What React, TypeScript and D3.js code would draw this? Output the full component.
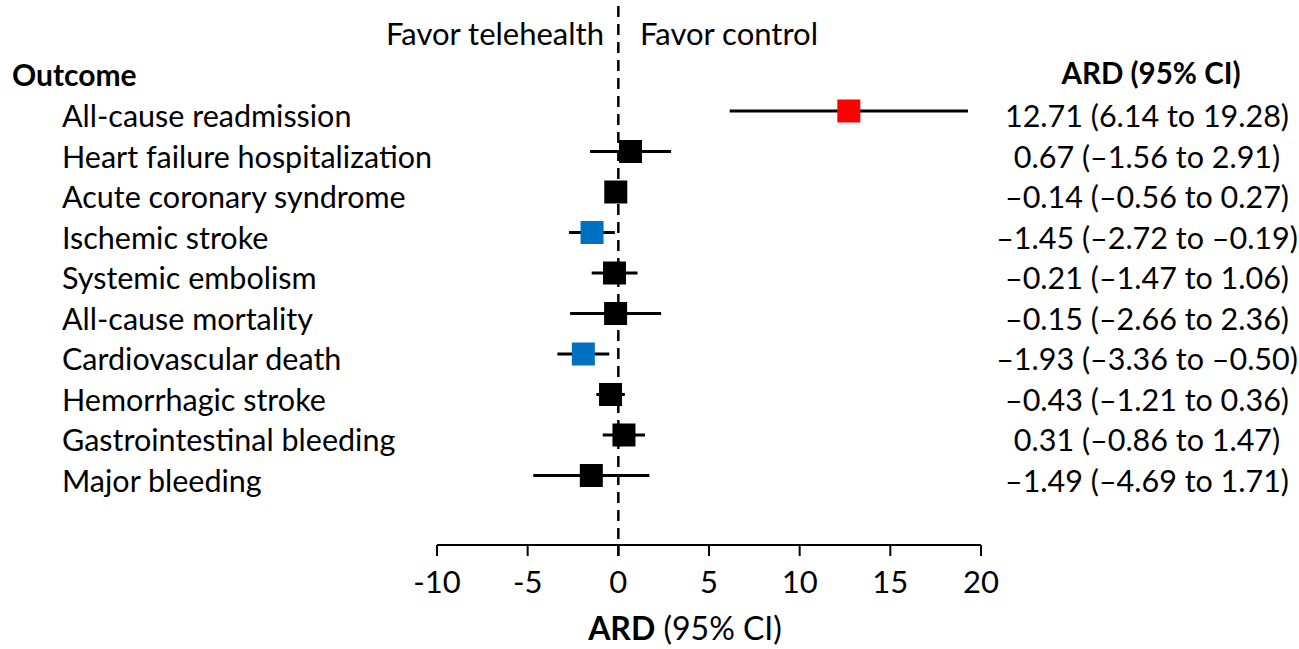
import React from "react";
import * as d3 from "d3";

const outcomes: string[] = [
  "All-cause readmission",
  "Heart failure hospitalization",
  "Acute coronary syndrome",
  "Ischemic stroke",
  "Systemic embolism",
  "All-cause mortality",
  "Cardiovascular death",
  "Hemorrhagic stroke",
  "Gastrointestinal bleeding",
  "Major bleeding",
];
const ard: number[] = [12.71, 0.67, -0.14, -1.45, -0.21, -0.15, -1.93, -0.43, 0.31, -1.49];
const lower: number[] = [6.14, -1.56, -0.56, -2.72, -1.47, -2.66, -3.36, -1.21, -0.86, -4.69];
const upper: number[] = [19.28, 2.91, 0.27, -0.19, 1.06, 2.36, -0.5, 0.36, 1.47, 1.71];
const ciLabels: string[] = [
  "12.71 (6.14 to 19.28)",
  "0.67 (\u20131.56 to 2.91)",
  "\u20130.14 (\u20130.56 to 0.27)",
  "\u20131.45 (\u20132.72 to \u20130.19)",
  "\u20130.21 (\u20131.47 to 1.06)",
  "\u20130.15 (\u20132.66 to 2.36)",
  "\u20131.93 (\u20133.36 to \u20130.50)",
  "\u20130.43 (\u20131.21 to 0.36)",
  "0.31 (\u20130.86 to 1.47)",
  "\u20131.49 (\u20134.69 to 1.71)",
];
// marker colour group: 1 = favours control (significant), -1 = favours telehealth, 0 = n.s.
const signif: number[] = [1, 0, 0, -1, 0, 0, -1, 0, 0, 0];
const xTicks: number[] = [-10, -5, 0, 5, 10, 15, 20];

const W = 1299;
const H = 649;
const font = "Lato, 'Open Sans', sans-serif";
const fs = 30.5;

export default function App() {
  const x = d3.scaleLinear().domain([-10, 20]).range([437, 981]);
  const y = d3.scalePoint<string>().domain(outcomes).range([111, 475.5]);
  const color = (s: number) => (s > 0 ? "#ff0000" : s < 0 ? "#0070c0" : "#000000");
  const axisY = 545;
  const sq = 23;

  return (
    <svg
      width={W}
      height={H}
      style={{ position: "absolute", left: 0, top: 0, background: "#fff" }}
      fontFamily={font}
    >
      {/* header */}
      <text x={604} y={45} fontSize={31} textAnchor="end" fill="#000">
        Favor telehealth
      </text>
      <text x={640} y={45} fontSize={31} fill="#000">
        Favor control
      </text>
      <text x={12} y={86} fontSize={30} fontWeight="bold" fill="#000">
        Outcome
      </text>
      <text x={1151} y={84} fontSize={29.5} fontWeight="bold" textAnchor="middle" fill="#000">
        ARD (95% CI)
      </text>

      {/* reference line at zero */}
      <line
        x1={x(0)}
        x2={x(0)}
        y1={6}
        y2={axisY + 11}
        stroke="#000"
        strokeWidth={2.5}
        strokeDasharray="11,7"
      />

      {/* rows */}
      {outcomes.map((o, i) => {
        const cy = y(o) as number;
        return (
          <g key={o}>
            <text x={62} y={cy + 16} fontSize={fs} fill="#000">
              {o}
            </text>
            <line x1={x(lower[i])} x2={x(upper[i])} y1={cy} y2={cy} stroke="#000" strokeWidth={3} />
            <rect x={x(ard[i]) - sq / 2} y={cy - sq / 2} width={sq} height={sq} fill={color(signif[i])} />
            <text x={1147} y={cy + 16} fontSize={fs} textAnchor="middle" fill="#000">
              {ciLabels[i]}
            </text>
          </g>
        );
      })}

      {/* x axis */}
      <line x1={x(-10)} x2={x(20)} y1={axisY} y2={axisY} stroke="#000" strokeWidth={2} />
      {xTicks.map((t) => (
        <g key={t}>
          <line x1={x(t)} x2={x(t)} y1={axisY} y2={axisY + 11} stroke="#000" strokeWidth={2} />
          <text x={x(t)} y={593} fontSize={31} textAnchor="middle" fill="#000">
            {t}
          </text>
        </g>
      ))}
      <text x={685} y={640} fontSize={32} textAnchor="middle" fill="#000">
        <tspan fontWeight="bold">ARD</tspan> (95% CI)
      </text>
    </svg>
  );
}
